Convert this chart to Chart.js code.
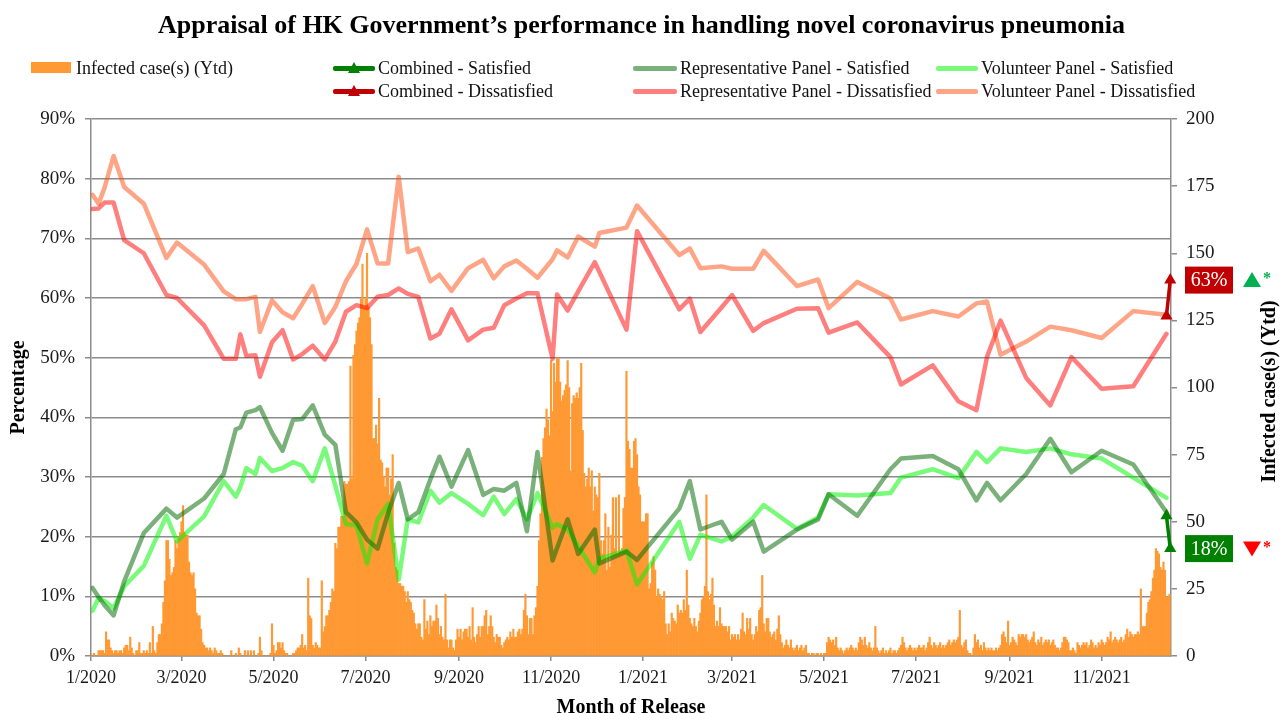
<!DOCTYPE html>
<html><head><meta charset="utf-8">
<script src="https://cdn.jsdelivr.net/npm/chart.js@4.4.1/dist/chart.umd.min.js"></script>
<style>
html,body{margin:0;padding:0;background:#fff;}
#wrap{position:relative;width:1283px;height:713px;overflow:hidden;font-family:"Liberation Serif","Times New Roman",serif;}
#c{position:absolute;left:0;top:0;}
#title{position:absolute;left:0;width:1283px;top:10px;text-align:center;font-weight:bold;font-size:26px;line-height:30px;color:#000;white-space:nowrap;}
.lgt{position:absolute;font-size:18px;line-height:20px;color:#111;white-space:nowrap;}
.sw{position:absolute;}
.tri{position:absolute;width:0;height:0;border-left:6px solid transparent;border-right:6px solid transparent;}
</style></head>
<body><div id="wrap"><canvas id="c" width="1283" height="713"></canvas><div id="title">Appraisal of HK Government’s performance in handling novel coronavirus pneumonia</div><div id="legend"></div></div>
<script>
// ---------- DATA ----------
// x values are days since 1 Jan 2020
const tickDays   = [0, 60, 121, 182, 244, 305, 366, 425, 486, 547, 609, 670];
const tickLabels = ['1/2020','3/2020','5/2020','7/2020','9/2020','11/2020','1/2021','3/2021','5/2021','7/2021','9/2021','11/2021'];

// daily infected cases (yesterday), day 0 = 1 Jan 2020
const casesYtd = [
 1,0,1,0,0,2,2,2,2,1, 9,6,6,3,2,1,2,2,1,2, 2,1,3,4,4,2,7,3,1,0, 2,2,5,1,1,2,1,2,1,5,
 1,11,2,1,5,8,8,12,20,28, 43,43,36,30,31,33,43,40,44,46, 50,56,46,45,45,35,31,30,31,25, 16,15,15,10,5,4,3,3,2,3,
 2,1,3,2,1,1,2,1,0,0, 0,0,0,2,0,0,1,0,3,1, 0,0,2,0,2,0,2,0,2,0, 0,1,7,2,0,0,0,0,0,1,
 12,4,1,2,5,5,3,5,2,1, 1,0,0,0,1,1,2,3,3,4, 8,3,4,2,29,15,14,4,3,5, 4,3,3,28,9,11,15,15,17,20,
 25,24,42,40,48,48,52,52,65,64, 64,65,108,66,112,116,121,124,126,133, 146,130,133,150,130,126,116,81,81,86, 79,96,73,72,67,63,70,70,60,66,
 75,42,33,32,27,27,26,26,24,20, 24,21,20,17,16,12,10,12,12,7, 6,21,10,13,8,15,11,13,13,19, 14,8,11,7,6,23,6,3,6,6,
 3,2,6,10,7,10,6,9,10,10, 7,11,6,18,7,5,8,11,7,11, 11,15,17,8,11,15,11,7,5,8, 7,7,4,3,5,6,7,6,9,7,
 10,7,7,9,10,8,10,17,23,15, 8,14,14,8,15,18,26,43,53,74, 81,85,92,88,82,110,91,109,102,111, 111,102,95,97,99,101,110,100,69,94,
 97,96,98,96,100,109,84,68,63,66, 70,63,69,54,63,60,59,68,43,38, 43,53,32,48,33,45,59,40,59,38, 60,39,40,55,59,106,80,77,70,70,
 80,81,75,63,60,50,50,50,53,53, 25,27,35,37,32,22,25,23,22,21, 24,12,8,12,9,16,14,13,12,19, 16,17,16,21,17,32,19,14,12,11,
 14,11,9,13,16,21,22,26,60,24, 21,23,29,19,11,13,11,18,12,11, 11,11,9,11,6,8,7,8,6,8, 6,10,16,9,8,14,10,14,8,6,
 8,11,9,17,18,30,12,9,14,14, 9,7,8,9,6,10,15,8,5,3, 4,6,4,3,6,3,2,3,4,2, 3,4,2,3,4,1,1,0,1,1,
 0,1,1,0,1,0,1,1,5,7, 6,5,6,4,7,3,2,3,2,1, 2,3,2,3,4,3,2,3,2,5, 7,6,4,7,4,3,5,3,2,3,
 11,3,2,1,2,3,1,2,1,2, 3,1,2,2,1,2,3,4,7,5, 3,2,3,4,3,2,3,2,3,4, 3,3,4,2,3,5,7,4,3,5,
 4,3,4,5,3,4,3,4,5,6, 4,5,6,5,6,7,17,4,3,5, 6,2,1,1,0,3,8,5,6,3, 4,2,5,3,2,3,2,3,2,2,
 3,2,3,4,8,9,7,5,13,4, 5,7,6,5,4,8,7,8,8,7, 8,6,5,6,7,9,5,4,6,5, 7,4,5,6,5,6,4,5,6,4,
 3,3,2,3,5,7,7,6,5,2, 2,3,2,1,5,4,3,4,5,4, 5,3,4,6,5,3,4,3,5,4, 6,5,4,5,7,6,9,5,6,7,
 6,5,6,7,5,6,8,10,7,9, 8,7,8,8,9,8,25,11,11,11, 16,20,21,24,29,32,40,39,38,33, 32,35,32,22,22,23
];

// survey release days (days since 1 Jan 2020)
const releaseDays = [1,5,9,15,22,35,50,57,75,88, 96,99,103,109,112,120,127,134,140,147,
 155,162,169,176,183,190,197,204,210,217, 225,231,239,250,260,267,274,282,289,296,
 306,309,316,323,334,337,355,362,390,397, 404,418,425,439,446,468,482,489,508,530,
 537,558,575,587,594,603,620,636,650,670, 691,713];

const repSat = [11.4,9.9,8.5,6.8,12.5,20.6,24.7,23.2,26.4,30.5, 38.0,38.3,40.8,41.2,41.7,37.4,34.4,39.6,39.7,42.0,
 37.1,35.4,24.1,22.4,19.5,18.0,24.0,29.0,22.9,24.1, 29.6,33.4,28.4,34.5,27.0,28.0,27.7,29.0,20.9,34.2,
 16.0,18.1,22.9,17.1,21.2,15.5,17.5,16.1,24.7,29.3, 21.2,22.5,19.5,22.5,17.5,21.2,22.9,27.1,23.5,31.3,
 33.1,33.5,31.3,26.1,29.0,26.1,30.5,36.4,30.8,34.4, 32.1,24.1];

const repDis = [74.9,75.0,76.0,76.0,69.7,67.5,60.5,60.0,55.4,49.8, 49.8,53.9,50.3,50.4,46.8,52.6,54.6,49.7,50.6,52.0,
 49.7,52.7,57.7,58.8,58.3,60.2,60.5,61.6,60.7,60.2, 53.2,54.0,58.1,52.9,54.7,55.0,58.8,59.9,60.8,60.8,
 49.8,60.6,57.9,61.1,66.0,64.4,54.7,71.2,58.1,59.9, 54.3,58.4,60.5,54.5,55.8,58.2,58.3,54.2,55.9,50.1,
 45.5,48.7,42.7,41.2,50.1,56.2,46.6,42.0,50.1,44.8, 45.2,54.0];

const volSat = [7.6,9.7,9.2,8.0,11.7,15.1,23.5,19.2,23.4,29.3, 26.7,28.3,31.5,30.5,33.2,31.0,31.5,32.5,31.9,29.3,
 34.8,28.5,22.1,21.9,15.5,22.9,25.5,12.8,22.9,22.4, 27.7,25.7,27.3,25.5,23.6,26.7,23.8,26.3,22.9,27.3,
 21.5,22.1,21.2,18.4,14.0,16.3,17.7,12.0,22.5,16.3, 20.3,19.2,20.0,23.2,25.3,21.3,23.2,27.1,26.9,27.3,
 29.9,31.3,29.8,34.2,32.5,34.8,34.2,34.8,33.8,33.1, 29.9,26.5];

const volDis = [77.3,75.8,78.5,83.8,78.6,75.8,66.7,69.3,65.6,61.1, 59.8,59.8,59.8,60.2,54.3,59.6,57.6,56.6,59.0,62.0,
 55.8,58.5,62.8,65.7,71.5,65.8,65.8,80.3,67.7,68.3, 62.8,63.9,61.2,65.0,66.4,63.3,65.3,66.3,64.9,63.4,
 66.5,68.0,66.8,70.3,68.6,70.9,71.8,75.5,67.2,68.3, 65.0,65.3,64.9,64.9,67.9,62.0,63.1,58.3,62.7,59.9,
 56.4,57.8,56.9,59.1,59.4,50.5,52.7,55.2,54.6,53.3, 57.8,57.2];

const combinedDays = [713, 715.5];
const combinedSat  = [23.5, 18];
const combinedDis  = [57, 63];

// ---------- STYLE ----------
const FONT = '"Liberation Serif", "Times New Roman", serif';
const GRID = '#8c8c8c';
const C = {
  bar: '#FF9933',
  cSat: '#008000', cDis: '#C00000',
  repSat: 'rgba(0,105,0,0.52)', repDis: 'rgba(255,0,0,0.5)',
  volSat: 'rgba(0,245,0,0.52)', volDis: 'rgba(255,75,15,0.5)'
};
Chart.defaults.font.family = FONT;

const pts = (xs, ys) => xs.map((d, i) => ({x: d, y: ys[i]}));
const lineDS = (label, ys, color) => ({
  type: 'line', label, data: pts(releaseDays, ys), yAxisID: 'y',
  borderColor: color, backgroundColor: color, borderWidth: 4.5, pointRadius: 0,
  tension: 0, fill: false, borderJoinStyle: 'round', borderCapStyle: 'round', order: 2
});

// ---------- LEGEND (HTML) ----------
const legendItems = [
  {label: 'Infected case(s) (Ytd)', kind: 'box', color: C.bar, col: 0, row: 0},
  {label: 'Combined - Satisfied', kind: 'marker', color: C.cSat, col: 1, row: 0},
  {label: 'Combined - Dissatisfied', kind: 'marker', color: C.cDis, col: 1, row: 1},
  {label: 'Representative Panel - Satisfied', kind: 'line', color: C.repSat, col: 2, row: 0},
  {label: 'Representative Panel - Dissatisfied', kind: 'line', color: C.repDis, col: 2, row: 1},
  {label: 'Volunteer Panel - Satisfied', kind: 'line', color: C.volSat, col: 3, row: 0},
  {label: 'Volunteer Panel - Dissatisfied', kind: 'line', color: C.volDis, col: 3, row: 1}
];
const colSw = [31, 333, 633, 936], colSwW = [40, 42, 44, 42], colTx = [76, 378, 680, 981], rowY = [68, 91];
const lg = document.getElementById('legend');
legendItems.forEach(it => {
  const y = rowY[it.row], sx = colSw[it.col], sw = colSwW[it.col];
  const s = document.createElement('div'); s.className = 'sw';
  if (it.kind === 'box') { s.style.cssText = `left:${sx}px;top:${y-6}px;width:${sw}px;height:11px;background:${it.color}`; }
  else { s.style.cssText = `left:${sx}px;top:${y-2.5}px;width:${sw}px;height:5px;background:${it.color};border-radius:2px`; }
  lg.appendChild(s);
  if (it.kind === 'marker') {
    const t = document.createElement('div'); t.className = 'tri';
    t.style.cssText += `left:${sx + sw/2 - 6}px;top:${y-6}px;border-bottom:11px solid ${it.color}`;
    lg.appendChild(t);
  }
  const tx = document.createElement('div'); tx.className = 'lgt';
  tx.style.left = colTx[it.col] + 'px'; tx.style.top = (y - 10) + 'px'; tx.textContent = it.label;
  lg.appendChild(tx);
});

// ---------- PLUGIN: right axis title + latest combined labels ----------
const rightTitle = 'Infected case(s) (Ytd)';
const annot = {
  id: 'annot',
  afterDraw(chart) {
    const {ctx, chartArea, scales} = chart;
    ctx.save();
    ctx.font = 'bold 20px ' + FONT; ctx.fillStyle = '#000';
    ctx.textAlign = 'center'; ctx.textBaseline = 'middle';
    ctx.translate(1270, (chartArea.top + chartArea.bottom) / 2 + 4);
    ctx.rotate(-Math.PI / 2);
    ctx.fillText(rightTitle, 0, 0);
    ctx.restore();
    const items = [
      {v: combinedDis[combinedDis.length - 1], bg: C.cDis, up: true, sc: '#00B050'},
      {v: combinedSat[combinedSat.length - 1], bg: C.cSat, up: false, sc: '#FF0000'}
    ];
    items.forEach(it => {
      const y = scales.y.getPixelForValue(it.v);
      const x0 = chartArea.right + 14;
      ctx.save();
      ctx.fillStyle = it.bg; ctx.fillRect(x0, y - 13.5, 48, 27);
      ctx.fillStyle = '#fff'; ctx.font = '20px ' + FONT; ctx.textAlign = 'center'; ctx.textBaseline = 'middle';
      ctx.fillText(Math.round(it.v) + '%', x0 + 24, y + 1);
      const tx = x0 + 67;
      ctx.fillStyle = it.sc; ctx.beginPath();
      if (it.up) { ctx.moveTo(tx - 9, y + 7); ctx.lineTo(tx + 9, y + 7); ctx.lineTo(tx, y - 8); }
      else { ctx.moveTo(tx - 9, y - 7); ctx.lineTo(tx + 9, y - 7); ctx.lineTo(tx, y + 8); }
      ctx.closePath(); ctx.fill();
      ctx.font = 'bold 16px ' + FONT; ctx.textAlign = 'left';
      ctx.fillText('*', tx + 11, y - 1);
      ctx.restore();
    });
  }
};

// ---------- CHART ----------
new Chart(document.getElementById('c'), {
  type: 'bar',
  data: {
    datasets: [
      {type: 'line', label: 'Combined - Satisfied', data: pts(combinedDays, combinedSat), yAxisID: 'y',
       borderColor: C.cSat, backgroundColor: C.cSat, borderWidth: 3.5, pointStyle: 'triangle', pointRadius: 7,
       pointBorderWidth: 0, tension: 0, order: 0, clip: false},
      {type: 'line', label: 'Combined - Dissatisfied', data: pts(combinedDays, combinedDis), yAxisID: 'y',
       borderColor: C.cDis, backgroundColor: C.cDis, borderWidth: 3.5, pointStyle: 'triangle', pointRadius: 7,
       pointBorderWidth: 0, tension: 0, order: 0, clip: false},
      lineDS('Representative Panel - Satisfied', repSat, C.repSat),
      lineDS('Representative Panel - Dissatisfied', repDis, C.repDis),
      lineDS('Volunteer Panel - Satisfied', volSat, C.volSat),
      lineDS('Volunteer Panel - Dissatisfied', volDis, C.volDis),
      {type: 'bar', label: 'Infected case(s) (Ytd)', data: casesYtd.map((v, i) => ({x: i, y: v})), yAxisID: 'y1',
       backgroundColor: C.bar, borderWidth: 0, barPercentage: 1, categoryPercentage: 1, order: 10}
    ]
  },
  options: {
    responsive: false, animation: false, devicePixelRatio: 1,
    layout: {padding: {top: 119, left: 0, right: 0, bottom: 0}},
    plugins: {legend: {display: false}, tooltip: {enabled: false}, title: {display: false}},
    scales: {
      x: {
        type: 'linear', min: 0, max: 716, offset: false,
        afterBuildTicks: a => { a.ticks = tickDays.map(v => ({value: v})); },
        afterFit: s => { s.height = 57; },
        ticks: {callback: v => { const k = tickDays.indexOf(v); return k >= 0 ? tickLabels[k] : ''; },
                autoSkip: false, maxRotation: 0, minRotation: 0, padding: 6, color: '#1a1a1a', font: {size: 18}},
        grid: {drawOnChartArea: false, drawTicks: true, tickLength: 5, color: GRID, lineWidth: 1.5, offset: false},
        border: {display: true, color: GRID, width: 1.5},
        title: {display: true, text: 'Month of Release', color: '#000', font: {size: 20, weight: 'bold', lineHeight: 0.5}, padding: {top: 0, bottom: 0}}
      },
      y: {
        position: 'left', min: 0, max: 90,
        afterFit: s => { s.width = 91; },
        ticks: {stepSize: 10, callback: v => v + '%', padding: 10, color: '#1a1a1a', font: {size: 19}},
        grid: {color: GRID, lineWidth: 1.5, tickLength: 6, drawTicks: true},
        border: {display: true, color: GRID, width: 1.5},
        title: {display: true, text: 'Percentage', color: '#000', font: {size: 20, weight: 'bold', lineHeight: 1}, padding: {top: 9, bottom: 0}}
      },
      y1: {
        position: 'right', min: 0, max: 200,
        afterFit: s => { s.width = 112; },
        ticks: {stepSize: 25, padding: 9, color: '#1a1a1a', font: {size: 19}},
        grid: {drawOnChartArea: false, color: GRID, lineWidth: 1.5, tickLength: 6, drawTicks: true},
        border: {display: true, color: GRID, width: 1.5}
      }
    }
  },
  plugins: [annot]
});
</script>
</body></html>
